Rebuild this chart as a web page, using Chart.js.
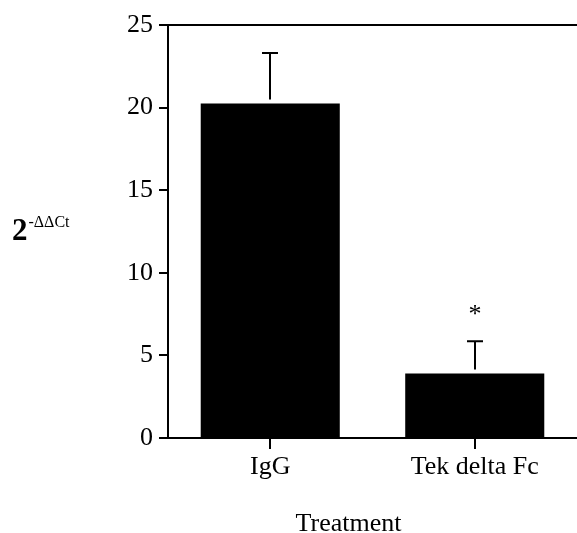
<!DOCTYPE html>
<html>
<head>
<meta charset="utf-8">
<script src="https://cdn.jsdelivr.net/npm/chart.js@4/dist/chart.umd.min.js"></script>
<style>
  html, body { margin: 0; padding: 0; background: #fff; }
  #wrap { width: 577px; height: 533px; }
</style>
</head>
<body>
<div id="wrap"><canvas id="c" width="577" height="533"></canvas></div>
<script>
const categories = ['IgG', 'Tek delta Fc'];
const means = [20.25, 3.9];
const sem = [3.05, 1.95];
const significance = ['', '*'];
const yTicks = [0, 5, 10, 15, 20, 25];
const xTitle = 'Treatment';
const yTitleBase = '2';
const yTitleSup = '-\u0394\u0394Ct';

const SERIF = '"Liberation Serif", "Times New Roman", serif';

const errorBarPlugin = {
  id: 'errorBars',
  afterDatasetsDraw(chart) {
    const ctx = chart.ctx;
    const y = chart.scales.y;
    const meta = chart.getDatasetMeta(0);
    ctx.save();
    ctx.strokeStyle = '#000';
    ctx.fillStyle = '#000';
    ctx.lineWidth = 2;
    meta.data.forEach((bar, i) => {
      const x = Math.round(bar.x);
      const yBar = y.getPixelForValue(means[i]);
      const yTop = y.getPixelForValue(means[i] + sem[i]);
      ctx.beginPath();
      ctx.moveTo(x, yBar - 4);
      ctx.lineTo(x, yTop);
      ctx.moveTo(x - 8, yTop);
      ctx.lineTo(x + 8, yTop);
      ctx.stroke();
      if (significance[i]) {
        ctx.font = '26px ' + SERIF;
        ctx.textAlign = 'center';
        ctx.textBaseline = 'alphabetic';
        ctx.fillText(significance[i], x, yTop - 19);
      }
    });
    ctx.restore();
  }
};

const titlesPlugin = {
  id: 'titles',
  afterDraw(chart) {
    const ctx = chart.ctx;
    ctx.save();
    ctx.fillStyle = '#000';
    ctx.textAlign = 'left';
    ctx.textBaseline = 'alphabetic';
    ctx.font = 'bold 31px ' + SERIF;
    ctx.fillText(yTitleBase, 12, 240);
    const w = ctx.measureText(yTitleBase).width;
    ctx.font = '16px ' + SERIF;
    ctx.fillText(yTitleSup, 12 + w + 1, 227);
    // x axis title, centred under the category ticks as in the reference
    const xs = chart.scales.x;
    ctx.font = '26px ' + SERIF;
    ctx.textAlign = 'center';
    ctx.fillText(xTitle, (xs.getPixelForValue(0) + xs.getPixelForValue(1)) / 2 - 24, 531);
    ctx.restore();
  }
};

new Chart(document.getElementById('c'), {
  type: 'bar',
  data: {
    labels: categories,
    datasets: [{
      data: means,
      backgroundColor: '#000',
      borderWidth: 0,
      barPercentage: 0.68,
      categoryPercentage: 1.0
    }]
  },
  options: {
    responsive: false,
    animation: false,
    devicePixelRatio: 1,
    layout: { padding: { top: 25, right: 0, left: 0, bottom: 0 } },
    plugins: { legend: { display: false }, tooltip: { enabled: false } },
    scales: {
      x: {
        afterFit(scale) { scale.height = 95; },
        grid: {
          drawOnChartArea: false,
          offset: false,
          tickLength: 11,
          color: '#000',
          tickColor: '#000',
          lineWidth: 2
        },
        border: { display: true, color: '#000', width: 2 },
        ticks: {
          color: '#000',
          padding: 3,
          font: { family: SERIF, size: 26 }
        }
      },
      y: {
        min: 0,
        max: 25,
        afterFit(scale) { scale.width = 168; },
        afterBuildTicks(scale) { scale.ticks = yTicks.map(v => ({ value: v })); },
        grid: {
          drawOnChartArea: true,
          tickLength: 9,
          lineWidth: 2,
          color: (c) => (c.tick && (c.tick.value === 0 || c.tick.value === 25)) ? '#000' : 'rgba(0,0,0,0)',
          tickColor: '#000'
        },
        border: { display: true, color: '#000', width: 2 },
        ticks: {
          color: '#000',
          padding: 6,
          font: { family: SERIF, size: 26 }
        }
      }
    }
  },
  plugins: [errorBarPlugin, titlesPlugin]
});
</script>
</body>
</html>
